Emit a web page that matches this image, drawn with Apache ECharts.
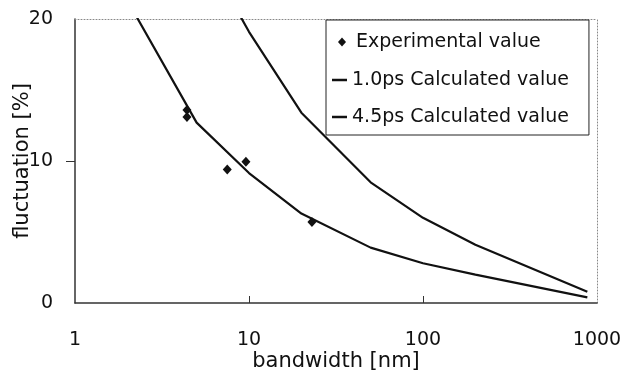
<!DOCTYPE html>
<html>
<head>
<meta charset="utf-8">
<script src="https://cdn.jsdelivr.net/npm/echarts@6/dist/echarts.min.js"></script>
<style>
	html, body { margin: 0; padding: 0; background: #fff; }
	#chart { width: 626px; height: 379px; }
</style>
</head>
<body>
<div id="chart"></div>
<script>
// values
const expX = [4.4, 4.4, 7.5, 9.6, 23]
const expY = [13.6, 13.1, 9.4, 9.95, 5.7]

const lowX = [2, 5, 10, 20, 50, 100, 200, 880]
const lowY = [21.3, 12.7, 9.15, 6.3, 3.9, 2.8, 2.0, 0.4]

const highX = [5, 10, 20, 50, 100, 200, 880]
const highY = [25.7, 19.1, 13.4, 8.5, 6.0, 4.1, 0.8]

const xTicks = [1, 10, 100, 1000]
const yTicks = [0, 10, 20]

const names = ['Experimental value', '1.0ps Calculated value', '4.5ps Calculated value']

const font = 'DejaVu Sans'
const ink = '#111'

const pairs = (xs, ys) => xs.map((x, i) => [x, ys[i]])

const chart = echarts.init(document.getElementById('chart'))

chart.setOption({
	animation: false,
	backgroundColor: '#fff',
	textStyle: { fontFamily: font, color: ink },
	grid: { left: 75, right: 29, top: 19, bottom: 76, outerBoundsMode: 'none' },
	legend: [{
		// box + the two line entries
		left: 326,
		top: 20,
		orient: 'vertical',
		backgroundColor: '#fff',
		borderColor: '#222',
		borderWidth: 1,
		borderRadius: 0,
		padding: [49, 20, 7, 6],
		itemWidth: 15,
		itemHeight: 2.5,
		itemGap: 15,
		textStyle: { fontFamily: font, fontSize: 19, color: ink, lineHeight: 22 },
		data: [
			{ name: names[1], icon: 'rect', itemStyle: { color: ink } },
			{ name: names[2], icon: 'rect', itemStyle: { color: ink } },
		],
		z: 10,
	}, {
		// diamond entry, sits in the top row of the box
		left: 338,
		top: 31,
		orient: 'vertical',
		padding: 0,
		itemWidth: 8,
		itemHeight: 9,
		textStyle: { fontFamily: font, fontSize: 19, color: ink, lineHeight: 22, padding: [0, 0, 0, 5] },
		data: [{ name: names[0], icon: 'diamond', itemStyle: { color: ink } }],
		z: 11,
	}],
	xAxis: [{
		type: 'log',
		logBase: 10,
		min: 1,
		max: 1000,
		name: 'bandwidth [nm]',
		nameLocation: 'middle',
		nameGap: 48,
		nameMoveOverlap: false,
		nameTextStyle: { fontFamily: font, fontSize: 21, color: ink },
		axisLine: { onZero: false, lineStyle: { color: '#333', width: 1.5 } },
		axisTick: { inside: true, length: 7, customValues: [10, 100], lineStyle: { color: '#333' } },
		axisLabel: { fontFamily: font, fontSize: 19, color: ink, margin: 28, customValues: xTicks, formatter: v => String(v) },
		splitLine: { show: false },
	}, {
		type: 'log',
		logBase: 10,
		min: 1,
		max: 1000,
		position: 'top',
		axisLine: { onZero: false, lineStyle: { color: '#888', width: 1, type: [1, 2] } },
		axisTick: { show: false },
		axisLabel: { show: false },
		splitLine: { show: false },
	}],
	yAxis: [{
		type: 'value',
		min: 0,
		max: 20,
		interval: 10,
		name: 'fluctuation [%]',
		nameLocation: 'middle',
		nameGap: 42,
		nameMoveOverlap: false,
		nameTextStyle: { fontFamily: font, fontSize: 21, color: ink },
		axisLine: { show: true, onZero: false, lineStyle: { color: '#333', width: 1.5 } },
		axisTick: { show: true, length: 9, customValues: [10], lineStyle: { color: '#333' } },
		axisLabel: { fontFamily: font, fontSize: 19, color: ink, margin: 22, customValues: yTicks },
		splitLine: { show: false },
	}, {
		type: 'value',
		min: 0,
		max: 20,
		interval: 10,
		position: 'right',
		axisLine: { show: true, onZero: false, lineStyle: { color: '#888', width: 1, type: [1, 2] } },
		axisTick: { show: false },
		axisLabel: { show: false },
		splitLine: { show: false },
	}],
	series: [{
		name: names[0],
		type: 'scatter',
		symbol: 'diamond',
		symbolSize: [9, 10],
		itemStyle: { color: ink, opacity: 1 },
		data: pairs(expX, expY),
		z: 3,
	}, {
		name: names[1],
		type: 'line',
		symbol: 'none',
		clip: true,
		lineStyle: { color: ink, width: 2.2 },
		itemStyle: { color: ink },
		data: pairs(lowX, lowY),
	}, {
		name: names[2],
		type: 'line',
		symbol: 'none',
		clip: true,
		lineStyle: { color: ink, width: 2.2 },
		itemStyle: { color: ink },
		data: pairs(highX, highY),
	}],
})
</script>
</body>
</html>
